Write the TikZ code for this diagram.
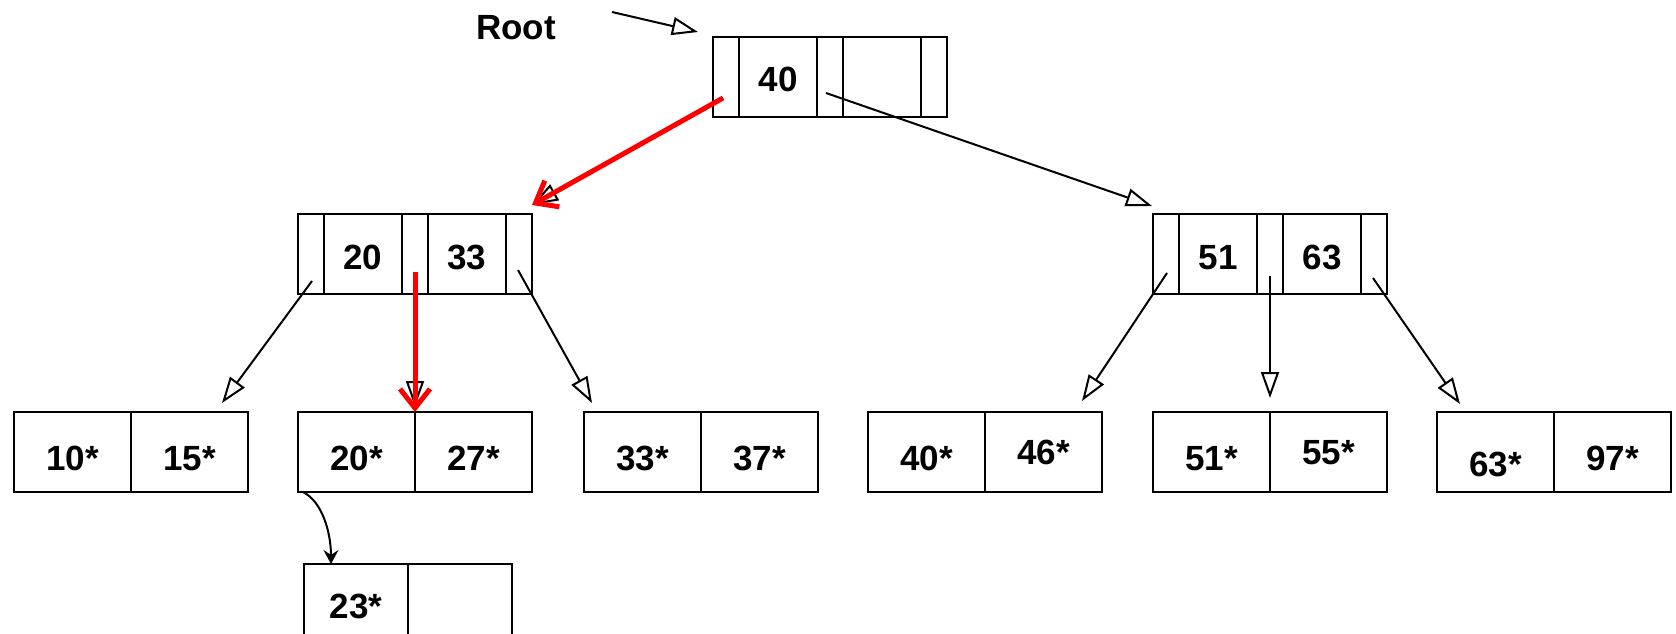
\documentclass[tikz,border=0pt]{standalone}
\usepackage{fontspec}
\setmainfont{Liberation Sans}
\usetikzlibrary{arrows.meta, positioning, calc}
\newcommand{\keyfont}{\fontsize{35}{40}\selectfont\bfseries}
\tikzset{
  ptrcell/.style={draw, line width=2.2pt, minimum width=26pt, minimum height=80pt,
                  inner sep=0pt, outer sep=0pt},
  keycell/.style={ptrcell, minimum width=78pt, font=\keyfont, text height=32pt},
  leafcell/.style={ptrcell, minimum width=117pt, font=\keyfont, text height=37pt},
  hi/.style={text height=25pt},
  lo/.style={text height=49pt},
  arr/.style={-{Triangle[open, length=26pt, width=18pt]}, line width=2pt},
  redarr/.style={-{Straight Barb[length=19pt, width=30pt]}, line width=5pt, red},
  curvarr/.style={-{Stealth[length=14pt, width=15pt, inset=5pt]}, line width=2pt},
}

\begin{document}
\begin{tikzpicture}[x=1pt, y=-1pt]
  \clip (0,0) rectangle (1676,634);

  %% root
  \node[font=\keyfont] (rootlbl) at (516,28) {Root};
  \coordinate (rootfrom) at (612,12);
  \node[ptrcell] (r0) at (726,77) {};
  \node[keycell, right=0pt of r0, text height=30pt] (r1) {40};
  \node[ptrcell, right=0pt of r1] (r2) {};
  \node[keycell, right=0pt of r2] (r3) {};
  \node[ptrcell, right=0pt of r3] (r4) {};

  %% inner nodes
  \node[ptrcell] (m0) at (311,254) {};
  \node[keycell, right=0pt of m0] (m1) {20};
  \node[ptrcell, right=0pt of m1] (m2) {};
  \node[keycell, right=0pt of m2] (m3) {33};
  \node[ptrcell, right=0pt of m3] (m4) {};

  \node[ptrcell] (n0) at (1166,254) {};
  \node[keycell, right=0pt of n0] (n1) {51};
  \node[ptrcell, right=0pt of n1] (n2) {};
  \node[keycell, right=0pt of n2] (n3) {63};
  \node[ptrcell, right=0pt of n3] (n4) {};

  %% leaves
  \node[leafcell] (l1a) at (72.5,452) {10*};
  \node[leafcell, right=0pt of l1a] (l1b) {15*};
  \node[leafcell] (l2a) at (356.5,452) {20*};
  \node[leafcell, right=0pt of l2a] (l2b) {27*};
  \node[leafcell] (l3a) at (642.5,452) {33*};
  \node[leafcell, right=0pt of l3a] (l3b) {37*};
  \node[leafcell] (l4a) at (926.5,452) {40*};
  \node[leafcell, hi, right=0pt of l4a] (l4b) {46*};
  \node[leafcell] (l5a) at (1211.5,452) {51*};
  \node[leafcell, hi, right=0pt of l5a] (l5b) {55*};
  \node[leafcell, lo] (l6a) at (1495.5,452) {63*};
  \node[leafcell, right=0pt of l6a] (l6b) {97*};

  %% overflow page
  \node[leafcell, minimum width=104pt, text height=30pt] (o0) at (356,604) {23*};
  \node[leafcell, minimum width=104pt, right=0pt of o0] (o1) {};

  %% pointers
  \draw[arr] (rootfrom) -- ($(r0.north west)+(-15,-5)$);
  \draw[arr] ($(r0.center)+(-3,21)$) -- ($(m4.north east)+(0,-9)$);
  \draw[arr] ($(r2.center)+(-4,16)$) -- ($(n0.north west)+(-1,-8)$);

  \draw[arr] ($(m0.center)+(1,27)$) -- ($(l1b.north east)+(-26,-9)$);
  \draw[arr] ($(m2.center)+(0,18)$) -- ($(l2a.north east)+(0,-5)$);
  \draw[arr] ($(m4.center)+(-1,16)$) -- ($(l3a.north west)+(8,-9)$);

  \draw[arr] ($(n0.center)+(1,19)$) -- ($(l4b.north east)+(-20,-11)$);
  \draw[arr] ($(n2.center)+(0,22)$) -- ($(l5a.north east)+(0,-14)$);
  \draw[arr] ($(n4.center)+(-1,24)$) -- ($(l6a.north west)+(23,-8)$);

  %% search path
  \draw[redarr] ($(r0.center)+(-3,21)$) -- ($(m4.north east)+(0,-9)$);
  \draw[redarr] ($(m2.center)+(0,18)$) -- (l2a.north east);

  \draw[curvarr] ($(l2a.south west)+(5,0)$) .. controls +(20,10) and +(0,-30) .. ($(o0.north west)+(27,0)$);
\end{tikzpicture}
\end{document}
